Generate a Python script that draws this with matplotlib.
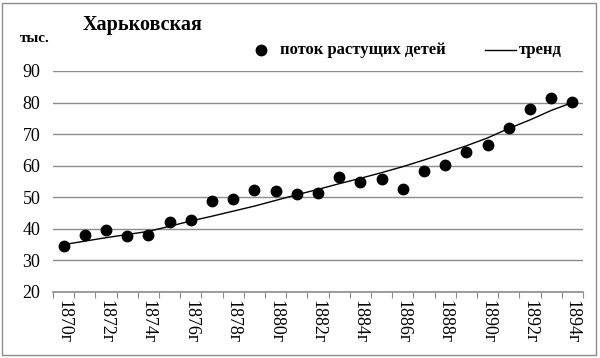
import numpy as np
import matplotlib.pyplot as plt
from matplotlib.patches import Rectangle
from matplotlib.lines import Line2D

years = list(range(1870, 1895))
children = [34.6, 38.2, 39.7, 37.7, 38.2, 42.2, 42.8, 48.7, 49.4, 52.4,
            52.1, 50.9, 51.3, 56.3, 54.7, 55.9, 52.5, 58.4, 60.3, 64.2,
            66.6, 71.9, 77.9, 81.5, 80.1]
trend = [35.0, 36.1, 37.2, 38.2, 39.2, 40.8, 42.5, 44.0, 45.6, 47.2,
         49.0, 50.8, 52.5, 54.3, 56.0, 57.8, 59.7, 61.8, 64.0, 66.3,
         68.8, 71.8, 74.5, 77.5, 80.0]
label_years = [str(y) + 'г' for y in years[::2]]

plt.rcParams['font.family'] = ['Liberation Serif', 'DejaVu Serif']

fig = plt.figure(figsize=(6, 3.58), dpi=100)
ax = fig.add_axes([0.0883, 0.1844, 0.8833, 0.6173])

x = np.arange(len(years))
ax.plot(x, trend, color='black', linewidth=1)
ax.plot(x, children, 'o', color='black', markersize=7.5, linestyle='none')

ax.set_xlim(-0.5, len(years) - 0.5)
ax.set_ylim(20, 90)
ax.set_yticks(range(20, 91, 10))
ax.yaxis.grid(True, color='#8c8c8c', linewidth=1)
ax.set_axisbelow(True)

# tick marks sit between categories, labels every second year
ax.set_xticks(np.arange(-0.5, len(years), 1.0))
ax.set_xticklabels([])
ax.tick_params(axis='x', which='major', length=4, color='#8c8c8c', direction='out')
ax.set_xticks(x[::2], label_years, minor=True)
ax.tick_params(axis='x', which='minor', length=0, labelsize=13, labelrotation=-90, pad=6)
ax.tick_params(axis='y', length=0, labelsize=13, pad=9)

for s in ['left', 'right', 'top']:
    ax.spines[s].set_visible(False)
ax.spines['bottom'].set_color('#8c8c8c')
ax.spines['bottom'].set_linewidth(1.2)

fig.text(0.137, 0.930, 'Харьковская', fontsize=14.5, fontweight='bold', ha='left', va='center')
fig.text(0.033, 0.892, 'тыс.', fontsize=11, fontweight='bold', ha='left', va='center')

# legend drawn by hand
ly = 0.860
fig.add_artist(Line2D([261 / 600], [ly], marker='o', color='black', markersize=7.5,
                      linestyle='none', transform=fig.transFigure))
fig.text(280 / 600, ly, 'поток растущих детей', fontsize=12, fontweight='bold',
         ha='left', va='center')
fig.add_artist(Line2D([485 / 600, 516 / 600], [ly, ly], color='black', linewidth=1,
                      transform=fig.transFigure))
fig.text(519 / 600, ly, 'тренд', fontsize=12, fontweight='bold', ha='left', va='center')

fig.add_artist(Rectangle((0.004, 0.007), 0.99, 0.985, transform=fig.transFigure,
                         fill=False, edgecolor='#8c8c8c', linewidth=1))

fig.savefig('out.png', dpi=100)
